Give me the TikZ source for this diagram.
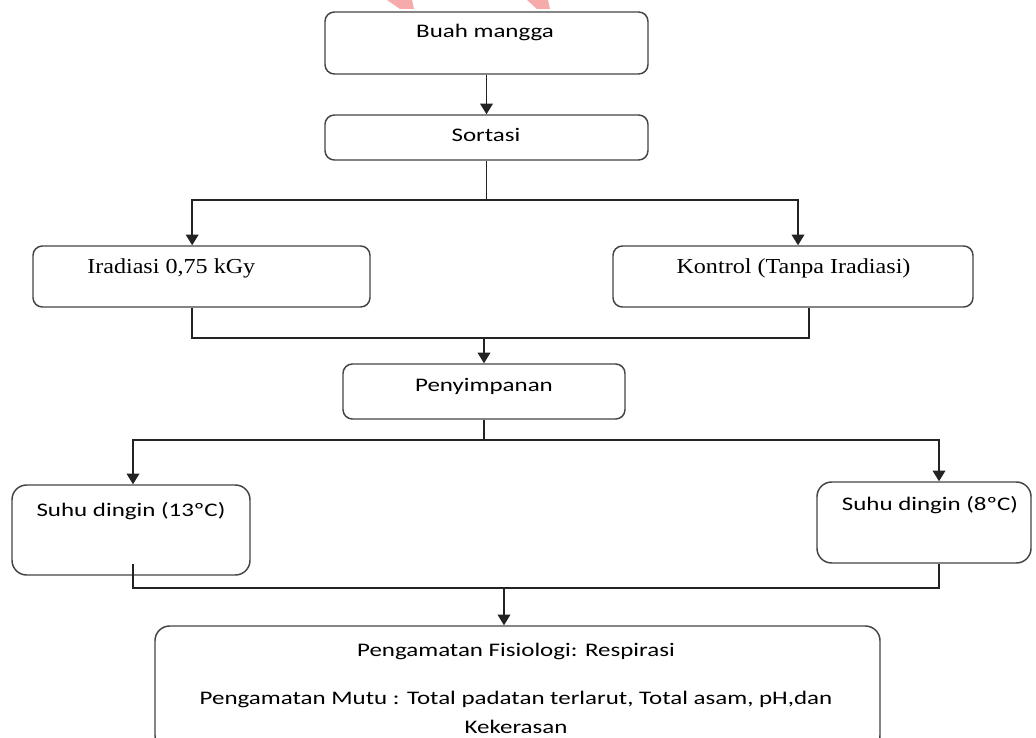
\documentclass[tikz,border=0pt]{standalone}
\usepackage{fontspec}
\usetikzlibrary{arrows.meta}
\newfontfamily\calib[FakeStretch=1.3]{Carlito}
\newfontfamily\tms[FakeStretch=1.13]{Liberation Serif}
\definecolor{garis}{RGB}{35,35,35}
\definecolor{tanda}{RGB}{246,170,170}

\begin{document}
\begin{tikzpicture}[x=0.75pt,y=-0.75pt,
		kotak/.style={draw=garis!85,line width=1.1pt,rounded corners=7pt,inner sep=0pt},
		tulis/.style={inner sep=0pt,anchor=base,font=\calib\fontsize{14.4}{17}\selectfont},
		tulisR/.style={inner sep=0pt,anchor=base,font=\tms\fontsize{16}{19}\selectfont},
		sambung/.style={draw=garis,line width=1.2pt},
		panah/.style={sambung,-{Triangle[length=8pt,width=9.5pt]}}]
				
				\useasboundingbox (0,0) rectangle (1036,738);
				\clip (0,0) rectangle (1036,738);
				
				% tanda merah di atas
				\fill[tanda] (387,0) -- (412,0) -- (414,9) -- (400,9) -- cycle;
				\fill[tanda] (527,0) -- (548,0) -- (550,9) -- (537,9) -- cycle;
				
				% Kotak
				\node[kotak,minimum width=242.25pt,minimum height=46.5pt] (buah) at (486.5,43) {};
				\node[kotak,minimum width=242.25pt,minimum height=33.75pt] (sortasi) at (486.5,137.5) {};
				\node[kotak,minimum width=252.75pt,minimum height=45.75pt] (irad) at (201.5,276.5) {};
				\node[kotak,minimum width=270pt,minimum height=45.75pt] (kontrol) at (793,276.5) {};
				\node[kotak,minimum width=211.5pt,minimum height=41.25pt] (simpan) at (484,391.5) {};
				\node[kotak,rounded corners=11pt,minimum width=178.5pt,minimum height=67.5pt] (suhuA) at (131,530) {};
				\node[kotak,rounded corners=11pt,minimum width=160.5pt,minimum height=60.75pt] (suhuB) at (924,522.5) {};
				\node[kotak,rounded corners=11pt,minimum width=543.75pt,minimum height=93pt] (amati) at (517.5,688) {};
				
				% Tulisan
				\node[tulis] (tBuah) at (485,38) {Buah mangga};
				\node[tulis] (tSortasi) at (486,142) {Sortasi};
				\node[tulisR,anchor=base west] (tIrad) at (87,273) {Iradiasi 0,75 kGy};
				\node[tulisR] (tKontrol) at (793.5,273) {Kontrol (Tanpa Iradiasi)};
				\node[tulis] (tSimpan) at (484,391) {Penyimpanan};
				\node[tulis] (tSuhuA) at (131,516) {Suhu dingin (13ºC)};
				\node[tulis] (tSuhuB) at (930,510) {Suhu dingin (8ºC)};
				\node[tulis] (tAmati1) at (516,656) {Pengamatan Fisiologi: Respirasi};
				\node[tulis] (tAmati2) at (516,704) {Pengamatan Mutu : Total padatan terlarut, Total asam, pH,dan};
				\node[tulis,text depth=0pt] (tAmati3) at (516,733) {Kekerasan};
				
				% Garis dan panah
				\coordinate (cabang1) at (486.5,200);
				\coordinate (gabung1) at (484,338);
				\coordinate (cabang2) at (484,440);
				\coordinate (gabung2) at (504,588);
				
				\draw[panah] (buah) -- (sortasi);
				\draw[sambung] (sortasi) -- (cabang1);
				\draw[panah] (cabang1) -| ([xshift=-7pt]irad.north);
				\draw[panah] (cabang1) -| ([xshift=3.75pt]kontrol.north);
				
				\draw[sambung] ([xshift=-7pt]irad.south) |- ([xshift=12pt]kontrol.south |- gabung1) -- ([xshift=12pt]kontrol.south);
				\draw[panah] (gabung1) -- (simpan);
				
				\draw[sambung] (simpan) -- (cabang2);
				\draw[panah] (cabang2) -| ([xshift=1.5pt]suhuA.north);
				\draw[panah] (cabang2) -| ([xshift=11.25pt]suhuB.north);
				
				\draw[sambung] ([xshift=1.5pt,yshift=9pt]suhuA.south) |- ([xshift=11.25pt]suhuB.south |- gabung2) -- ([xshift=11.25pt]suhuB.south);
				\draw[panah] (gabung2) -- (gabung2 |- amati.north);
				
			\end{tikzpicture}
\end{document}
